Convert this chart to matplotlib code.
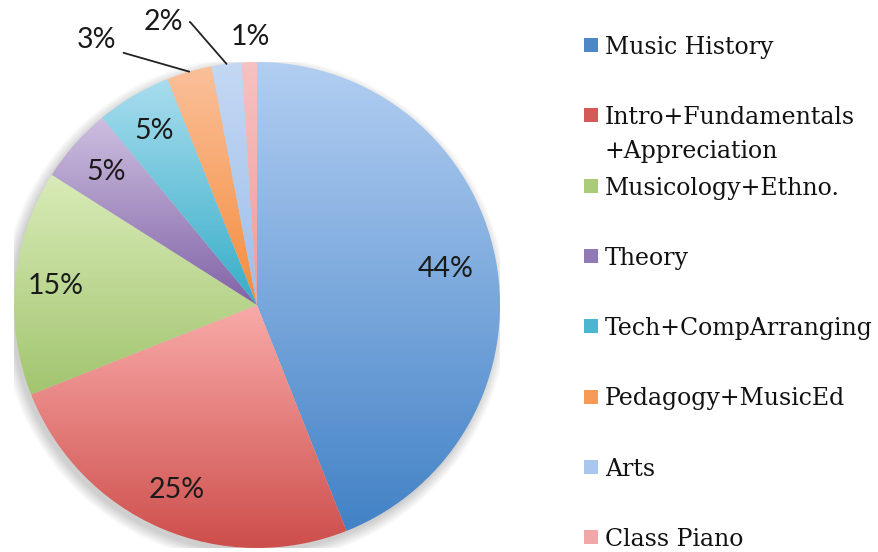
import numpy as np
import matplotlib.pyplot as plt
from matplotlib.colors import LinearSegmentedColormap
from matplotlib.patches import Rectangle, Circle

labels = ["Music History", "Intro+Fundamentals\n+Appreciation", "Musicology+Ethno.",
          "Theory", "Tech+CompArranging", "Pedagogy+MusicEd", "Arts", "Class Piano"]
shares = [44, 25, 15, 5, 5, 3, 2, 1]
pct_text = ["44%", "25%", "15%", "5%", "5%", "3%", "2%", "1%"]

# light (top) / dark (bottom) gradient pair for every slice
light = ["#b2cef2", "#f9aba9", "#d9ebb8", "#cdbfe0", "#a8ddee", "#fbc09a", "#c4d8f3", "#f7c2c2"]
dark = ["#4282c6", "#cc4c49", "#a2c56f", "#8163a6", "#36adc8", "#f48c3c", "#9ebfe9", "#f09a9a"]
legend_col = ["#4f86c6", "#d35a57", "#a9cb7a", "#9079b4", "#4cb5cf", "#f79a55", "#a9c6ec", "#f2a8a8"]

W, H = 879, 552
fig = plt.figure(figsize=(W / 100, H / 100), dpi=100)

cx, cy, R = 257, 305, 243
ax = fig.add_axes([(cx - R) / W, (H - cy - R) / H, 2 * R / W, 2 * R / H])
ax.set_xlim(-1, 1)
ax.set_ylim(-1, 1)
ax.set_aspect("equal")
ax.axis("off")

# soft shadow under the pie
for k in range(8):
    ax.add_patch(Circle((-0.012, -0.02), 1.0 + 0.006 * k, color="#000000",
                        alpha=0.025, lw=0, zorder=0))

wedges, _ = ax.pie(shares, startangle=90, counterclock=False, radius=1,
                   wedgeprops=dict(linewidth=0))

grad = np.linspace(0, 1, 256).reshape(-1, 1)
for i, w in enumerate(wedges):
    w.set_facecolor("none")
    pts = w.get_patch_transform().transform(w.get_path().vertices)
    x0, y0 = pts.min(axis=0)
    x1, y1 = pts.max(axis=0)
    cmap = LinearSegmentedColormap.from_list("g%d" % i, [dark[i], light[i]])
    im = ax.imshow(grad, cmap=cmap, origin="lower", extent=(x0, x1, y0, y1),
                   aspect="auto", zorder=1, interpolation="bilinear")
    im.set_clip_path(w)
ax.set_xlim(-1, 1)
ax.set_ylim(-1, 1)

pct_font = dict(family="Lato", fontsize=20.5, color="#1a1a1a")

# inside labels
bounds = np.cumsum([0] + shares) / 100.0
mids = 90 - 360 * (bounds[:-1] + bounds[1:]) / 2
for i in range(5):
    a = np.deg2rad(mids[i])
    r = 0.79 if i == 0 else 0.83
    ax.text(r * np.cos(a), r * np.sin(a), pct_text[i], ha="center", va="center", **pct_font)

# outside labels with leader lines
def px(x, y):
    return ((x - cx) / R, (cy - y) / R)

out_pos = {5: (97, 40), 6: (163, 22)}
angB = {5: -16, 6: -49}
for i, (tx, ty) in out_pos.items():
    a = np.deg2rad(mids[i])
    ax.annotate(pct_text[i], xy=(np.cos(a), np.sin(a)), xytext=px(tx, ty),
                ha="center", va="center", **pct_font,
                arrowprops=dict(arrowstyle="-", color="#222222", lw=1.3,
                                shrinkA=3, shrinkB=0,
                                connectionstyle="angle,angleA=0,angleB=%d,rad=0" % angB[i]))
ax.text(*px(250, 37), pct_text[7], ha="center", va="center", **pct_font)

# legend
for i, lab in enumerate(labels):
    y = 45 + 70.3 * i
    fig.patches.append(Rectangle((584 / W, (H - y - 7) / H), 14 / W, 14 / H,
                                 transform=fig.transFigure, facecolor=legend_col[i],
                                 edgecolor="none"))
    for j, line in enumerate(lab.split("\n")):
        fig.text(605 / W, (H - y - 34 * j) / H, line, ha="left", va="center_baseline",
                 family="DejaVu Serif", fontsize=17, color="#111111")

fig.savefig("out.png", dpi=100, facecolor="white")
